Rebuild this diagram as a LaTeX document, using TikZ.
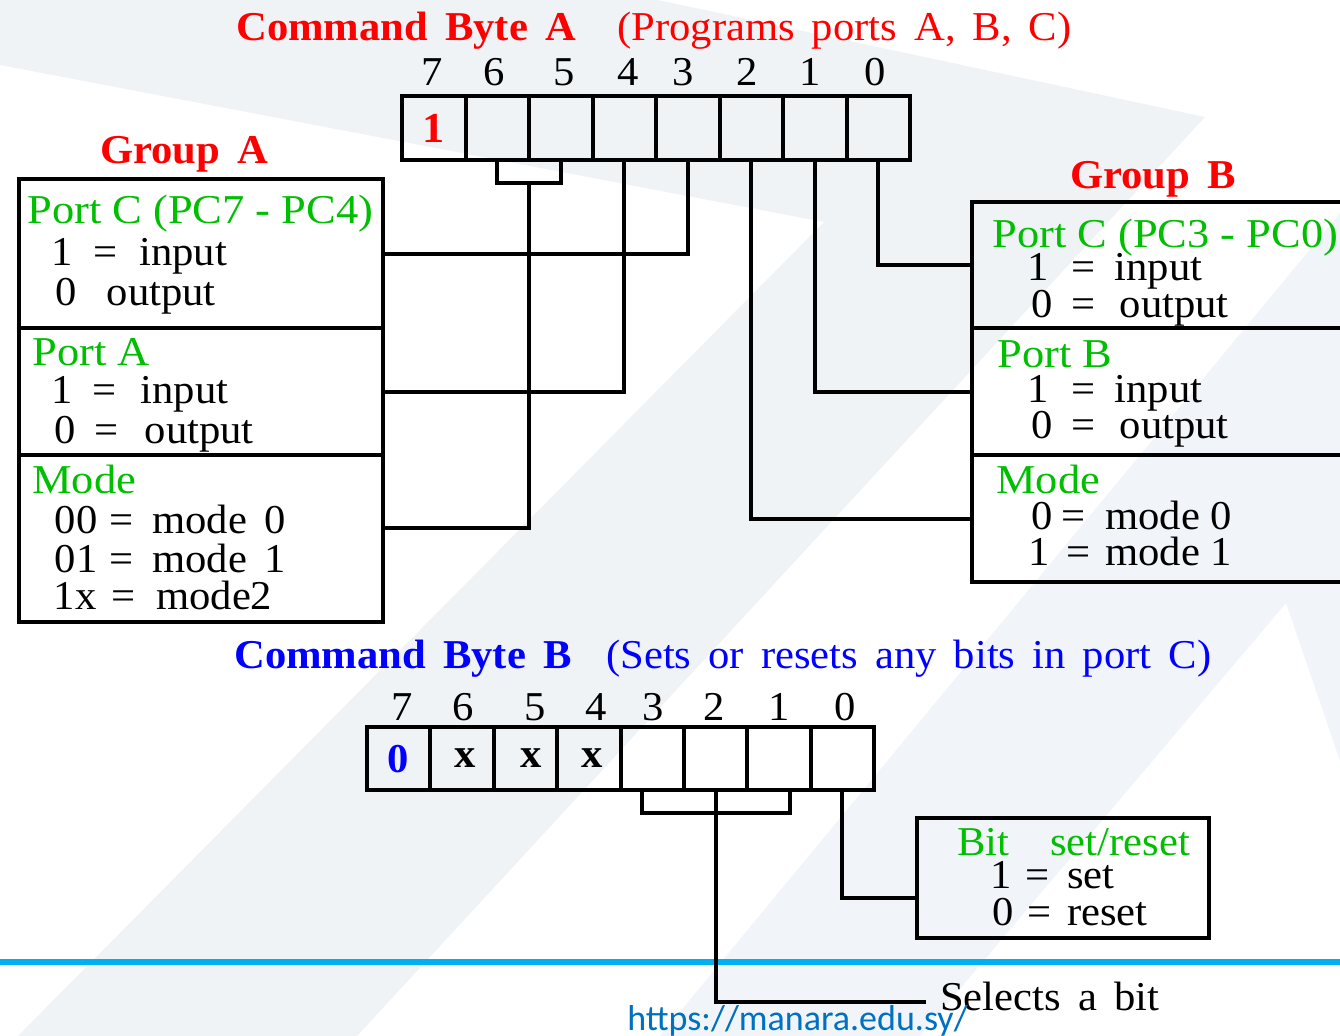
\documentclass[tikz,border=0pt]{standalone}
\usepackage{fontspec}
\setmainfont{Liberation Serif}[FakeStretch=1.04]
\newfontfamily\wideserif{Liberation Serif}[WordSpace=1.6,FakeStretch=1.04]
\newfontfamily\greenserif{Liberation Serif}[FakeStretch=1.085]
\newfontfamily\urlfont{Carlito}
\usetikzlibrary{calc}

\definecolor{titlered}{RGB}{255,0,0}
\definecolor{labelgreen}{RGB}{0,190,0}
\definecolor{titleblue}{RGB}{0,0,255}
\definecolor{rulecyan}{RGB}{0,176,240}
\definecolor{urlblue}{RGB}{0,112,192}
\definecolor{bandgray}{RGB}{240,243,246}
\definecolor{bandblue}{RGB}{241,245,250}

% one drawing unit = one pixel of the slide
\newlength\pxu
\setlength\pxu{0.75pt}
% a row of fixed-width columns: value, sign, meaning
\newcommand\cols[5]{\makebox[#1\pxu][l]{#3}\makebox[#2\pxu][l]{#4}#5}

\tikzset{
  x=0.75pt, y=-0.75pt,
  txt/.style={anchor=base west, inner sep=0pt, font=\fontsize{30.75pt}{36pt}\selectfont},
  wtxt/.style={txt, font=\wideserif\fontsize{30.75pt}{36pt}\selectfont},
  gtxt/.style={txt, text=labelgreen, font=\greenserif\fontsize{30.75pt}{36pt}\selectfont},
  ctxt/.style={txt, anchor=base},
  wire/.style={line width=3pt, black},
  cellA/.style={draw, line width=3pt, minimum width=63.5\pxu, minimum height=64\pxu, inner sep=0pt},
  cellB/.style={draw, line width=3pt, minimum width=63.375\pxu, minimum height=63\pxu, inner sep=0pt},
  panel/.style={draw, line width=3pt, inner sep=0pt},
}

\begin{document}
\begin{tikzpicture}
\useasboundingbox (0,0) rectangle (1340,1036);
\clip (0,0) rectangle (1340,1036);

% slide background
\fill[white] (0,0) rectangle (1340,1036);
\fill[bandgray] (0,0) -- (658,0) -- (1205,117) -- (357,1036) -- (18,1036)
  -- (824,222) -- (0,65) -- cycle;
\fill[bandblue] (1340,213) -- (660,1036) -- (920,1036) -- (1286,603)
  -- (1340,761) -- cycle;
\draw[line width=4.5pt, rulecyan] (0,962) -- (1340,962);

% ---------- command byte A ----------
\node[wtxt, text=titlered] (titleA) at (236,40) {\bfseries Command Byte A};
\node[wtxt, text=titlered] (progA) at (617,40) {(Programs ports A, B, C)};
\foreach \b/\xx in {7/432,6/494,5/564,4/628,3/683,2/747,1/810,0/875}
  \node[ctxt] (nA\b) at (\xx,85) {\b};
\foreach \b [count=\k from 0] in {7,...,0}
  \node[cellA] (a\b) at ({433.75+63.5*\k},128) {};
\node[ctxt, text=titlered] (valA) at (434,142) {\fontsize{32pt}{36pt}\selectfont\bfseries 1};

% group A panels
\node[wtxt, text=titlered] (grpA) at (100,163) {\bfseries Group A};
\node[panel, minimum width=364\pxu, minimum height=149\pxu] (gaPortC) at (201,253.5) {};
\node[panel, minimum width=364\pxu, minimum height=127\pxu] (gaPortA) at (201,391.5) {};
\node[panel, minimum width=364\pxu, minimum height=167\pxu] (gaMode) at (201,538.5) {};

\node[gtxt] (gaPortCt) at (27,223) {Port C (PC7 - PC4)};
\node[txt] (gaPortC1) at (51.5,265) {\cols{42}{45.5}{1}{=}{input}};
\node[txt] (gaPortC0) at (55,305) {\cols{51.5}{0}{0}{}{output}};
\node[gtxt] (gaPortAt) at (32,365) {Port A};
\node[txt] (gaPortA1) at (51,403) {\cols{41.6}{47.7}{1}{=}{input}};
\node[txt] (gaPortA0) at (54.6,443) {\cols{40}{50}{0}{=}{output}};
\node[gtxt] (gaModet) at (32,493) {Mode};
\node[wtxt] (gaMode0) at (54.6,533) {\cols{55}{42.4}{00}{=}{mode 0}};
\node[wtxt] (gaMode1) at (54.6,572) {\cols{55}{42.4}{01}{=}{mode 1}};
\node[wtxt] (gaMode2) at (53.5,609) {\cols{58.1}{44.4}{1x}{=}{mode2}};

% group B panels
\node[wtxt, text=titlered] (grpB) at (1070,188) {\bfseries Group B};
\node[panel, minimum width=428\pxu, minimum height=126\pxu] (gbPortC) at (1186,265) {};
\node[panel, minimum width=428\pxu, minimum height=127\pxu] (gbPortB) at (1186,391.5) {};
\node[panel, minimum width=428\pxu, minimum height=127\pxu] (gbMode) at (1186,518.5) {};

\node[gtxt] (gbPortCt) at (992,247) {Port C (PC3 - PC0)};
\node[txt] (gbPortC1) at (1027.5,280) {\cols{44.1}{42.7}{1}{=}{input}};
\node[txt] (gbPortC0) at (1031,317) {\cols{40.6}{47.9}{0}{=}{output}};
\node[gtxt] (gbPortBt) at (997,367) {Port B};
\node[txt] (gbPortB1) at (1027.5,402) {\cols{44.1}{42.7}{1}{=}{input}};
\node[txt] (gbPortB0) at (1031,438) {\cols{40.6}{47.9}{0}{=}{output}};
\node[gtxt] (gbModet) at (996,493) {Mode};
\node[txt] (gbMode0) at (1031,529) {\cols{30.6}{43.4}{0}{=}{mode 0}};
\node[txt] (gbMode1) at (1028.5,565) {\cols{38.1}{38.4}{1}{=}{mode 1}};

% connectors of byte A
\draw[wire] (a6.south) -- ++(0,21) -| (a5.south);
\coordinate (brA) at ($(a6.south)!0.5!(a5.south)+(0,21)$);
\draw[wire] (brA) |- ($(gaMode.north east)!0.44!(gaMode.south east)$);
\draw[wire] (a4.south) |- (gaPortA.east);
\draw[wire] (a3.south) |- (gaPortC.east);
\draw[wire] (a2.south) |- (gbMode.west);
\draw[wire] (a1.south) |- (gbPortB.west);
\draw[wire] (a0.south) |- (gbPortC.west);

% ---------- command byte B ----------
\node[wtxt, text=titleblue] (titleB) at (234,668) {\bfseries Command Byte B};
\node[wtxt, text=titleblue] (subB) at (606,668) {(Sets or resets any bits in port C)};
\foreach \b/\xx in {7/402,6/463,5/535,4/596,3/653,2/714,1/779,0/845}
  \node[ctxt] (nB\b) at (\xx,720) {\b};
\foreach \b [count=\k from 0] in {7,...,0}
  \node[cellB] (b\b) at ({398.69+63.375*\k},758.5) {};
\node[ctxt, text=titleblue] (valB) at (398,772) {\bfseries 0};
\node[ctxt] (xB6) at (465,767) {\bfseries x};
\node[ctxt] (xB5) at (531,767) {\bfseries x};
\node[ctxt] (xB4) at (592,767) {\bfseries x};

% bit set/reset panel
\node[panel, minimum width=292\pxu, minimum height=120\pxu] (bsr) at (1063,878) {};
\node[txt, text=labelgreen] (bsrt) at (957,855) {Bit\quad set/reset};
\node[txt] (bsr1) at (990.5,888) {\cols{35.1}{41.4}{1}{=}{set}};
\node[txt] (bsr0) at (992,925) {\cols{35.6}{39.4}{0}{=}{reset}};

\node[wtxt] (selects) at (940,1010) {Selects a bit};

% connectors of byte B
\draw[wire] ($(b2.south)+(-74,0)$) -- ++(0,21) -| ($(b2.south)+(74,0)$);
\draw[wire] (b2.south) |- ($(selects.base west)+(-14,-8)$);
\draw[wire] (b0.south) |- ($(bsr.north west)!0.66!(bsr.south west)$);

% footer link
\node[txt, font=\urlfont\fontsize{27pt}{30pt}\selectfont, text=urlblue] (url) at (627,1030) {https://manara.edu.sy/};
\end{tikzpicture}
\end{document}
